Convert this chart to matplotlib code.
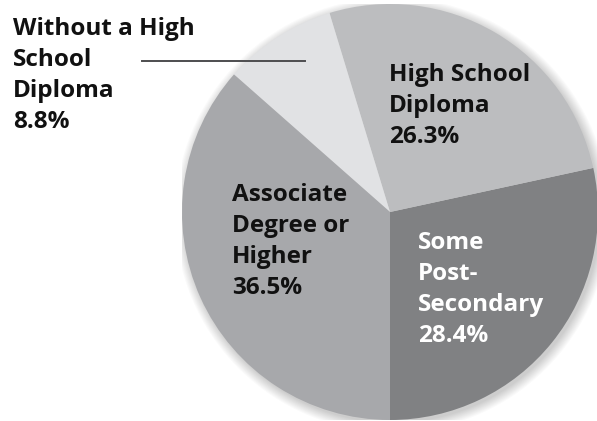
import matplotlib
matplotlib.use("Agg")
import matplotlib.pyplot as plt
from matplotlib.patches import Circle

# share of adults by education level
labels = ["Some\nPost-\nSecondary\n28.4%", "High School\nDiploma\n26.3%",
          "Without a High\nSchool\nDiploma\n8.8%", "Associate\nDegree or\nHigher\n36.5%"]
shares = [28.4, 26.3, 8.8, 36.5]
colors = ["#808183", "#bcbdbf", "#e1e2e4", "#a7a8ab"]

plt.rcParams['font.family'] = ['Open Sans', 'DejaVu Sans']

fig = plt.figure(figsize=(5.97, 4.21), dpi=100)
# pie centred at px (390, 212) with radius 208
ax = fig.add_axes([182 / 597, 1 / 421, 416 / 597, 416 / 421])
ax.set_xlim(-1, 1)
ax.set_ylim(-1, 1)
ax.set_aspect('equal')
ax.axis('off')

# soft drop shadow around the lower right rim
for i in range(10):
    ax.add_patch(Circle((0.012, -0.014), 1 + 0.005 * i, color='black',
                        alpha=0.018, lw=0, zorder=0))

ax.pie(shares, colors=colors, startangle=-90, counterclock=True,
       radius=1, center=(0, 0), frame=True,
       wedgeprops=dict(linewidth=0, zorder=1))
ax.set_xlim(-1, 1)
ax.set_ylim(-1, 1)
ax.axis('off')


def px(x, y):
    return (x - 390) / 208, (212 - y) / 208


fs = 17.5
kw = dict(fontsize=fs, fontweight='bold', ha='left', va='top',
          linespacing=1.39, clip_on=False, zorder=5)

ax.text(*px(232, 183), labels[3], color='#111111', **kw)
ax.text(*px(389, 63), labels[1], color='#111111', **kw)
ax.text(*px(418, 231), labels[0], color='white', **kw)
ax.text(*px(13, 17), labels[2], color='#111111', **kw)

# leader line for the thin slice
x0, y0 = px(142, 61)
x1, y1 = px(305, 61)
ax.plot([x0, x1], [y0, y1], color='#4d4d4f', lw=1.4, clip_on=False, zorder=4)

fig.savefig("out.png", dpi=100)
